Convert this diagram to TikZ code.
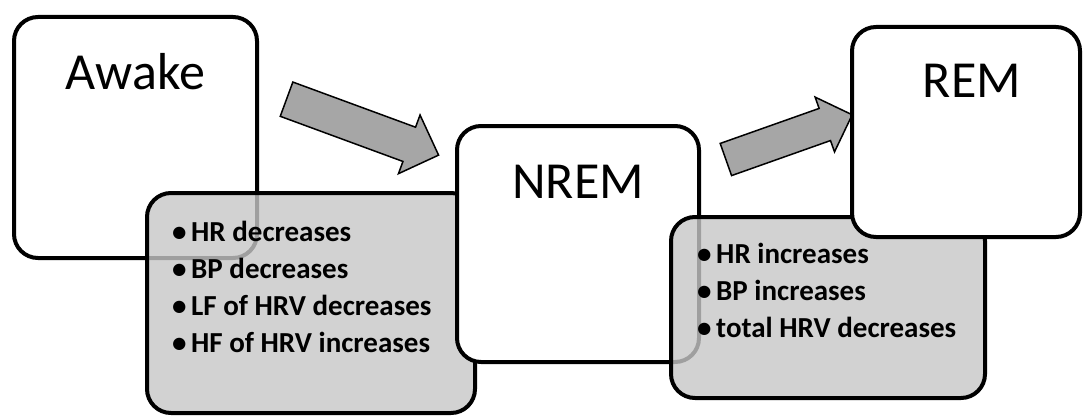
\documentclass[tikz,border=0pt]{standalone}
\usepackage{fontspec}
\setmainfont{Carlito}
\usetikzlibrary{shapes.arrows,positioning}

\newcommand{\itm}{\makebox[19pt][l]{\textbullet}}

\begin{document}
\begin{tikzpicture}[x=1pt, y=-1pt,
    stage/.style={draw, line width=4, rounded corners=24, fill=white, inner sep=0},
    facts/.style={draw, line width=4, rounded corners=24, fill=black!22, fill opacity=0.8, inner sep=0},
    title/.style={font=\fontsize{52}{62}\selectfont, anchor=base},
    items/.style={font=\fontsize{29}{37}\selectfont\bfseries, align=left, anchor=base west, inner sep=0},
    blockarrow/.style={single arrow, draw, line width=1.5, fill=black!35, inner xsep=0, single arrow tip angle=90}]
    \useasboundingbox (0,0) rectangle (1083,417);

    \node [stage, minimum width=243, minimum height=241] (awake) at (135.5,137.5) {};
    \node [title] (awaketitle) at ([yshift=-75]awake.north) {Awake};

    % base anchor sits on the last line
    \node [facts, minimum width=328, minimum height=220] (sleepin) at (311,303) {};
    \node [items] (sleepinlist) at (172,352) {\itm HR decreases\\ \itm BP decreases\\ \itm LF of HRV decreases\\ \itm HF of HRV increases};

    \node [blockarrow, rotate=-20.2, minimum height=162, inner ysep=17.5, single arrow head extend=13] (shift1) at (354,124) {};

    \node [stage, minimum width=242, minimum height=236] (nrem) at (578,244) {};
    \node [title] (nremtitle) at ([yshift=-74]nrem.north) {NREM};

    \node [facts, minimum width=314, minimum height=181] (dream) at (828,307.5) {};
    \node [items] (dreamlist) at (697,337) {\itm HR increases\\ \itm BP increases\\ \itm total HRV decreases};

    \node [blockarrow, rotate=19.5, minimum height=134, inner ysep=16.3, single arrow head extend=12] (shift2) at (781,140) {};

    \node [stage, minimum width=228, minimum height=210] (rem) at (966,132) {};
    \node [title] (remtitle) at ([xshift=6,yshift=-73]rem.north) {REM};
\end{tikzpicture}
\end{document}
